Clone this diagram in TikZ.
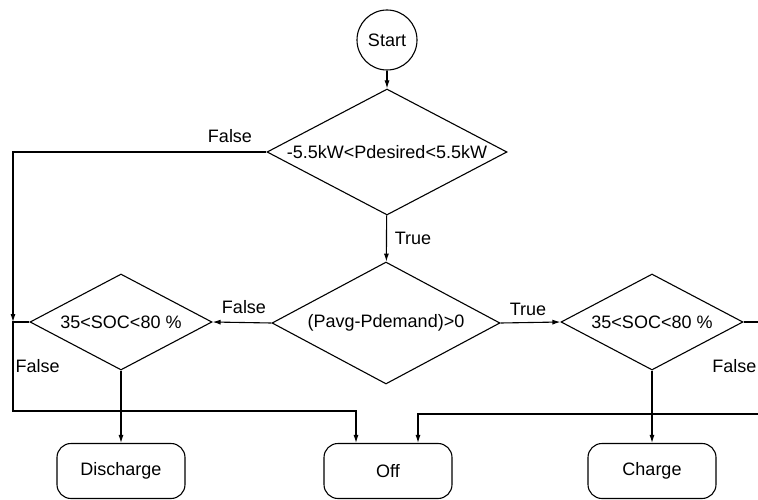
\documentclass[tikz,border=0pt]{standalone}
\usepackage{fontspec}
\setmainfont{Liberation Sans}
\usetikzlibrary{shapes.geometric,arrows.meta}
\begin{document}
\begin{tikzpicture}[x=1pt,y=-1pt,
  font=\fontsize{18}{21}\selectfont,
  line width=1.1pt,
  every node/.style={inner sep=0pt},
  decision/.style={draw,shape=diamond,aspect=1.9},
  terminal/.style={draw,rounded corners=14pt,minimum width=128pt,minimum height=55pt},
  flow/.style={-{Latex[length=8pt,width=5pt]}},
  lbl/.style={}]
\useasboundingbox (0,0) rectangle (758,500);

% start and decisions
\node[draw,circle,minimum size=60pt] (start) at (387,40) {Start};
\node[decision,minimum width=240pt,minimum height=126pt] (d1) at (387,152) {-5.5kW<Pdesired<5.5kW};
\node[decision,minimum width=228pt,minimum height=122pt] (d2) at (386,323) {(Pavg-Pdemand)>0};
\node[decision,minimum width=182pt,minimum height=96pt] (dl) at (121,322) {35<SOC<80 \%};
\node[decision,minimum width=182pt,minimum height=96pt] (dr) at (652,322) {35<SOC<80 \%};

% outcomes
\node[terminal] (dis) at (121,471) {Discharge};
\node[terminal] (off) at (388,471) {Off};
\node[terminal] (chg) at (652,471) {Charge};

% junction points
\coordinate (jl) at (13,322);
\coordinate (jlt) at (13,152);
\coordinate (jlb) at (13,411);
\coordinate (jrt) at (775,322);
\coordinate (jrb) at (775,414);
\coordinate (offl) at ([xshift=-32pt]off.north);
\coordinate (offr) at ([xshift=30pt]off.north);

% connectors
\draw[flow] (start) -- (d1);
\draw[flow] (d1) -- (d2);
\draw[flow] (d1.west) -- (jlt) -- (jl);
\draw[flow] (d2.west) -- (dl.east);
\draw[flow] (d2.east) -- (dr.west);
\draw[flow] (dl.west) -- (jl) -- (jlb) -| (offl);
\draw[flow] (dr.east) -- (jrt) -- (jrb) -| (offr);
\draw[flow] (dl.south) -- (dis.north);
\draw[flow] (dr.south) -- (chg.north);

% branch labels
\node[lbl] (f1) at (230,136) {False};
\node[lbl] (t1) at (413,238) {True};
\node[lbl] (f2) at (244,307) {False};
\node[lbl] (t2) at (528,309) {True};
\node[lbl,anchor=west] (f3) at (15,366) {False};
\node[lbl,anchor=east] (f4) at (757,366) {False};
\end{tikzpicture}
\end{document}
